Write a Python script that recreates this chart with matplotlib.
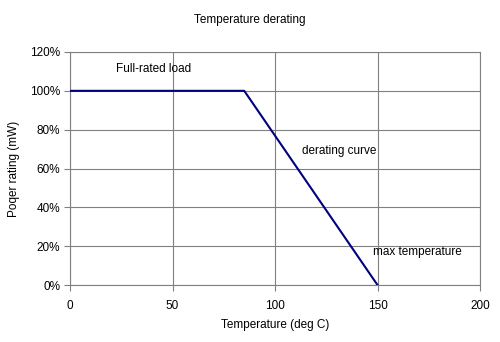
import matplotlib.pyplot as plt
from matplotlib.ticker import FuncFormatter

plt.rcParams['font.family'] = ['Liberation Sans', 'DejaVu Sans']
plt.rcParams['font.size'] = 8.5

# derating curve points
temperature = [0, 85, 150]
power_rating = [1.0, 1.0, 0.0]

x_ticks = [0, 50, 100, 150, 200]
y_ticks = [0, 0.2, 0.4, 0.6, 0.8, 1.0, 1.2]

fig = plt.figure(figsize=(5, 3.42), dpi=100)
ax = fig.add_axes([70 / 500, 1 - 285 / 342, 410 / 500, 233 / 342])

ax.plot(temperature, power_rating, color='#000080', linewidth=1.5, zorder=3)

ax.set_xlim(0, 200)
ax.set_ylim(0, 1.2)
ax.set_xticks(x_ticks)
ax.set_yticks(y_ticks)
ax.yaxis.set_major_formatter(FuncFormatter(lambda v, p: f'{v * 100:.0f}%'))
ax.grid(True, color='#808080', linewidth=0.8)
ax.tick_params(direction='out', length=4, color='#808080', pad=3)
ax.tick_params(axis='x', pad=7)

for side in ['top', 'right', 'left', 'bottom']:
    ax.spines[side].set_color('#808080')

ax.set_xlabel('Temperature (deg C)', labelpad=5)
ax.set_ylabel('Poqer rating (mW)', labelpad=7)
fig.suptitle('Temperature derating', y=1 - 20 / 342, va='center', fontsize=8.5)

ax.text(22.5, 1.115, 'Full-rated load', va='center')
ax.text(113, 0.69, 'derating curve', va='center')
ax.text(148, 0.17, 'max temperature', va='center')

fig.savefig('out.png', dpi=100)
